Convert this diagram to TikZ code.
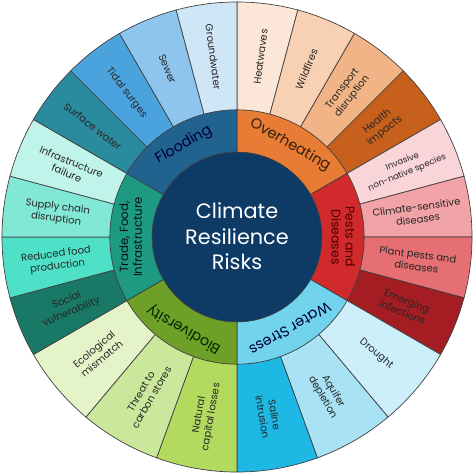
\documentclass[tikz,border=0pt]{standalone}
\usepackage{fontspec}
\setmainfont{Poppins}
\usepackage{xcolor}

% centre and inner ring
\definecolor{centre}{HTML}{0E3A66}
\definecolor{flood}{HTML}{21628F}
\definecolor{overh}{HTML}{E97C35}
\definecolor{pests}{HTML}{D02A2C}
\definecolor{water}{HTML}{72D3EF}
\definecolor{biod}{HTML}{6E9F27}
\definecolor{trade}{HTML}{1E9A83}
% outer ring
\definecolor{surfw}{HTML}{2A8A9E}
\definecolor{tidal}{HTML}{4BA3DE}
\definecolor{sewer}{HTML}{8EC5EE}
\definecolor{groundw}{HTML}{CFE6F7}
\definecolor{heatw}{HTML}{FCE6D8}
\definecolor{wildf}{HTML}{F8D0B3}
\definecolor{transp}{HTML}{F2B486}
\definecolor{health}{HTML}{C6601C}
\definecolor{invas}{HTML}{F9D4D8}
\definecolor{climsens}{HTML}{F1A3A7}
\definecolor{plantp}{HTML}{E56F72}
\definecolor{emerg}{HTML}{A41D22}
\definecolor{drought}{HTML}{CDEFFA}
\definecolor{aquif}{HTML}{A8E2F4}
\definecolor{saline}{HTML}{1DB8E4}
\definecolor{natcap}{HTML}{B2DA5E}
\definecolor{carbon}{HTML}{CBE79C}
\definecolor{ecol}{HTML}{E5F3C9}
\definecolor{social}{HTML}{197866}
\definecolor{redfood}{HTML}{4FE1C8}
\definecolor{supply}{HTML}{82E8D6}
\definecolor{infra}{HTML}{C0F4EB}

\begin{document}
\begin{tikzpicture}[
  seg/.style={draw=black!75, line width=0.5pt},
  outlbl/.style={align=center, text=black!85, inner sep=0pt},
  inlbl/.style={align=center, inner sep=0pt}
]
  \useasboundingbox (-6,-6) rectangle (6,6);

  % Outer ring: start/end angle, colour, label, font size
  \foreach \a/\b/\c/\t/\s in {
    90/75/heatw/Heatwaves/7.2, 75/60/wildf/Wildfires/7.2,
    60/45/transp/{Transport\\disruption}/7.2, 45/30/health/{Health\\impacts}/7.2,
    30/15/invas/{Invasive\\non-native species}/6.2,
    15/0/climsens/{Climate-sensitive\\diseases}/7.2,
    0/-15/plantp/{Plant pests and\\diseases}/7.2, -15/-30/emerg/{Emerging\\infections}/7.2,
    -30/-50/drought/Drought/7.2, -50/-70/aquif/{Aquifer\\depletion}/7.2,
    -70/-90/saline/{Saline\\intrusion}/7.2,
    -90/-110/natcap/{Natural\\capital losses}/7.2, -110/-130/carbon/{Threat to\\carbon stores}/7.2,
    -130/-150/ecol/{Ecological\\mismatch}/7.2,
    -150/-165/social/{Social\\vulnerability}/7.2, -165/-180/redfood/{Reduced food\\production}/7.2,
    -180/-195/supply/{Supply chain\\disruption}/7.2, -195/-210/infra/{Infrastructure\\failure}/7.2,
    -210/-225/surfw/Surface water/7.2, -225/-240/tidal/Tidal surges/7.2,
    -240/-255/sewer/Sewer/7.2, -255/-270/groundw/Groundwater/7.2
  }{
    \pgfmathsetmacro\m{(\a+\b)/2}
    \pgfmathsetmacro\r{\m<-90 ? \m+180 : \m}
    \draw[seg, fill=\c] (0,0) -- (\a:5.95) arc[start angle=\a, end angle=\b, radius=5.95] -- cycle;
    \node[outlbl, font=\fontsize{\s}{8.8}\selectfont, rotate=\r] (lbl-\c) at (\m:4.6) {\t};
  }

  % Inner ring
  \foreach \a/\b/\c in {90/30/overh, 30/-30/pests, -30/-90/water,
                        -90/-150/biod, -150/-210/trade, -210/-270/flood}{
    \draw[seg, fill=\c] (0,0) -- (\a:3.22) arc[start angle=\a, end angle=\b, radius=3.22] -- cycle;
  }

  % Centre
  \draw[seg, fill=centre] (0,0) circle (2.15);
  \node[align=center, text=white, font=\fontsize{15}{18.5}\selectfont] (title) at (0,0.02) {Climate\\Resilience\\Risks};

  % Category labels (tangential)
  \foreach \m/\n/\t/\tc in {120/flood/Flooding/black!80!blue, 60/overh/Overheating/black!75!brown,
                            -60/water/Water Stress/black!80!blue, -120/biod/Biodiversity/black!85!green}{
    \node[inlbl, font=\fontsize{10.5}{11}\selectfont, text=\tc, rotate=\m-90] (lbl-\n) at (\m:2.69) {\t};
  }
  \node[inlbl, font=\fontsize{9}{10}\selectfont, rotate=-90, text=black!70!red] (lbl-pests) at (0:2.69) {Pests and\\Diseases};
  \node[inlbl, font=\fontsize{8.5}{10}\selectfont, rotate=90, text=black!85!teal] (lbl-trade) at (180:2.69) {Trade, Food,\\Infrastructure};
\end{tikzpicture}
\end{document}
